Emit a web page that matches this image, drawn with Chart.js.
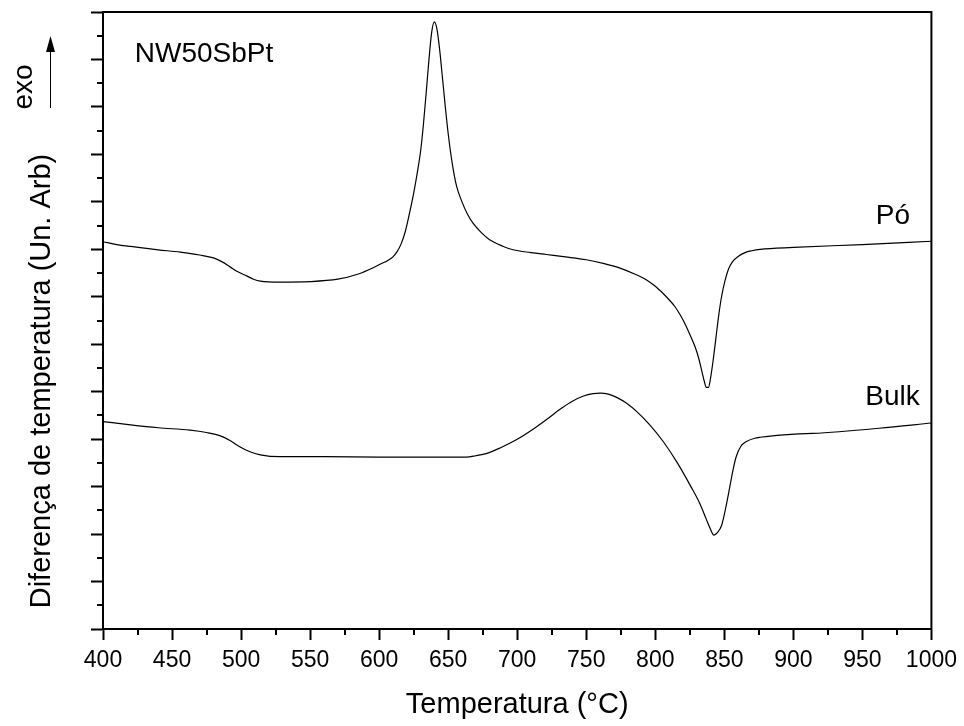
<!DOCTYPE html>
<html>
<head>
<meta charset="utf-8">
<title>NW50SbPt - DTA</title>
<script src="https://cdn.jsdelivr.net/npm/chart.js@4.4.1/dist/chart.umd.min.js"></script>
<style>
  html, body { margin: 0; padding: 0; background: #fff; }
  #wrap { width: 964px; height: 726px; }
</style>
</head>
<body>
<div id="wrap"><canvas id="dtaChart" width="964" height="726"></canvas></div>
<script>
// x axis ticks (°C)
var xTicks = [400, 450, 500, 550, 600, 650, 700, 750, 800, 850, 900, 950, 1000];

// "Pó" curve: temperature (°C) and signal (arb. units)
var poTemp = [400, 410, 420, 440, 456, 470, 480, 486, 492, 498, 504, 509, 514, 528, 550, 570, 585, 595, 601, 606,
  610, 613, 616, 619, 622, 625, 628, 630, 632, 634, 636, 638, 640, 642, 644, 646, 648, 650, 653, 656, 660,
  664, 668, 674, 680, 690, 697, 710, 721, 735, 750, 763, 774, 785, 794, 800, 808, 814, 818, 822, 826,
  829, 831.5, 833.5, 835.5, 837, 838.5, 840, 842, 844, 846, 848, 850.5, 853, 856, 860, 865, 870, 876, 900, 950, 1000];
var poSignal = [8.16, 8.10, 8.06, 7.99, 7.94, 7.88, 7.82, 7.74, 7.63, 7.52, 7.44, 7.37, 7.33, 7.31, 7.32, 7.37, 7.48, 7.60, 7.69, 7.76,
  7.84, 7.95, 8.12, 8.38, 8.76, 9.18, 9.68, 10.06, 10.61, 11.27, 11.97, 12.56, 12.79, 12.62, 12.16, 11.57, 10.98, 10.44, 9.80, 9.34, 9.00,
  8.74, 8.55, 8.35, 8.20, 8.06, 7.99, 7.93, 7.89, 7.84, 7.78, 7.70, 7.61, 7.48, 7.35, 7.22, 7.00, 6.80, 6.62, 6.40, 6.14,
  5.93, 5.70, 5.46, 5.22, 5.09, 5.09, 5.28, 5.68, 6.15, 6.62, 7.00, 7.34, 7.58, 7.74, 7.85, 7.93, 7.97, 8.00, 8.04, 8.10, 8.17];

// "Bulk" curve
var bulkTemp = [400, 420, 440, 463, 475, 485, 492, 499, 506, 514, 528, 560, 600, 640, 663, 670, 678, 688, 699, 712,
  722, 731, 740, 748, 755, 760, 766, 772, 779, 787, 796, 806, 816, 826, 832, 837, 840, 842.4, 845, 848, 851, 854,
  856.5, 858.6, 862, 866, 872, 876, 904, 914, 962, 1000];
var bulkSignal = [4.37, 4.30, 4.24, 4.19, 4.14, 4.07, 3.97, 3.84, 3.74, 3.67, 3.63, 3.63, 3.62, 3.62, 3.62, 3.65, 3.70, 3.82, 3.98, 4.22,
  4.43, 4.63, 4.80, 4.91, 4.96, 4.97, 4.95, 4.88, 4.76, 4.57, 4.30, 3.94, 3.50, 2.99, 2.66, 2.31, 2.10, 1.98, 2.03, 2.18, 2.55, 3.00,
  3.38, 3.63, 3.85, 3.95, 4.02, 4.04, 4.11, 4.12, 4.23, 4.34];

var seriesNames = ["Pó", "Bulk"];
var sampleName = "NW50SbPt";
var xTitle = "Temperatura (°C)";
var yTitle = "Diferença de temperatura (Un. Arb)";

var FONT = "'Liberation Sans', Arial, Helvetica, sans-serif";

function toPoints(xs, ys) {
  return xs.map(function (t, i) {
    return { x: t, y: ys[i] };
  });
}

// frame, minor ticks, labels and the exo arrow
var decorPlugin = {
  id: "decor",
  afterDraw: function (chart) {
    var ctx = chart.ctx;
    var area = chart.chartArea;
    var xs = chart.scales.x;
    var ys = chart.scales.y;
    ctx.save();
    ctx.strokeStyle = "#000";
    ctx.fillStyle = "#000";
    ctx.lineWidth = 2;

    // top and right side of the box
    ctx.beginPath();
    ctx.moveTo(area.left - 1, area.top);
    ctx.lineTo(area.right, area.top);
    ctx.lineTo(area.right, area.bottom + 1);
    ctx.stroke();

    // minor ticks
    ctx.beginPath();
    for (var v = 425; v < 1000; v += 50) {
      var px = Math.round(xs.getPixelForValue(v));
      ctx.moveTo(px, area.bottom);
      ctx.lineTo(px, area.bottom + 6);
    }
    for (var w = 0.5; w < 13; w += 1) {
      var py = Math.round(ys.getPixelForValue(w));
      ctx.moveTo(area.left, py);
      ctx.lineTo(area.left - 6, py);
    }
    ctx.stroke();

    // curve labels
    ctx.font = "28px " + FONT;
    ctx.textBaseline = "alphabetic";
    ctx.textAlign = "left";
    ctx.fillText(sampleName, xs.getPixelForValue(423), ys.getPixelForValue(11.95));
    ctx.textAlign = "right";
    ctx.fillText(seriesNames[0], xs.getPixelForValue(984.5), ys.getPixelForValue(8.53));
    ctx.fillText(seriesNames[1], xs.getPixelForValue(991.5), ys.getPixelForValue(4.72));

    // y axis title
    ctx.save();
    ctx.translate(50, 381);
    ctx.rotate(-Math.PI / 2);
    ctx.textAlign = "center";
    ctx.font = "29px " + FONT;
    ctx.fillText(yTitle, 0, 0);
    ctx.restore();

    // exo + arrow
    ctx.save();
    ctx.translate(32, 87);
    ctx.rotate(-Math.PI / 2);
    ctx.textAlign = "center";
    ctx.font = "28px " + FONT;
    ctx.fillText("exo", 0, 0);
    ctx.restore();

    ctx.lineWidth = 1;
    ctx.beginPath();
    ctx.moveTo(50.5, 108);
    ctx.lineTo(50.5, 48);
    ctx.stroke();
    ctx.beginPath();
    ctx.moveTo(50.5, 36);
    ctx.lineTo(46, 52);
    ctx.lineTo(55, 52);
    ctx.closePath();
    ctx.fill();

    ctx.restore();
  },
};

var ctx = document.getElementById("dtaChart").getContext("2d");
var dtaChart = new Chart(ctx, {
  type: "line",
  data: {
    datasets: [
      {
        label: seriesNames[0],
        data: toPoints(poTemp, poSignal),
        borderColor: "#000",
        borderWidth: 1.2,
        pointRadius: 0,
        fill: false,
        cubicInterpolationMode: "monotone",
      },
      {
        label: seriesNames[1],
        data: toPoints(bulkTemp, bulkSignal),
        borderColor: "#000",
        borderWidth: 1.2,
        pointRadius: 0,
        fill: false,
        cubicInterpolationMode: "monotone",
      },
    ],
  },
  options: {
    responsive: false,
    animation: false,
    devicePixelRatio: 1,
    layout: { padding: { top: 12, right: 32, left: 0, bottom: 0 } },
    plugins: {
      legend: { display: false },
      tooltip: { enabled: false },
    },
    scales: {
      x: {
        type: "linear",
        min: 400,
        max: 1000,
        afterBuildTicks: function (scale) {
          scale.ticks = xTicks.map(function (t) {
            return { value: t };
          });
        },
        afterFit: function (scale) {
          scale.height = 97;
        },
        grid: {
          drawOnChartArea: false,
          drawTicks: true,
          tickLength: 11,
          tickWidth: 2,
          tickColor: "#000",
        },
        border: { display: true, color: "#000", width: 2 },
        ticks: {
          color: "#000",
          padding: 7,
          maxRotation: 0,
          autoSkip: false,
          font: { family: FONT, size: 23 },
          callback: function (value) {
            return String(value);
          },
        },
        title: {
          display: true,
          text: xTitle,
          color: "#000",
          font: { family: FONT, size: 29 },
          padding: { top: 0, bottom: 4 },
        },
      },
      y: {
        type: "linear",
        min: 0,
        max: 13,
        ticks: { stepSize: 1, display: false },
        afterFit: function (scale) {
          scale.width = 103;
        },
        grid: {
          drawOnChartArea: false,
          drawTicks: true,
          tickLength: 12,
          tickWidth: 2,
          tickColor: "#000",
        },
        border: { display: true, color: "#000", width: 2 },
      },
    },
  },
  plugins: [decorPlugin],
});
</script>
</body>
</html>
